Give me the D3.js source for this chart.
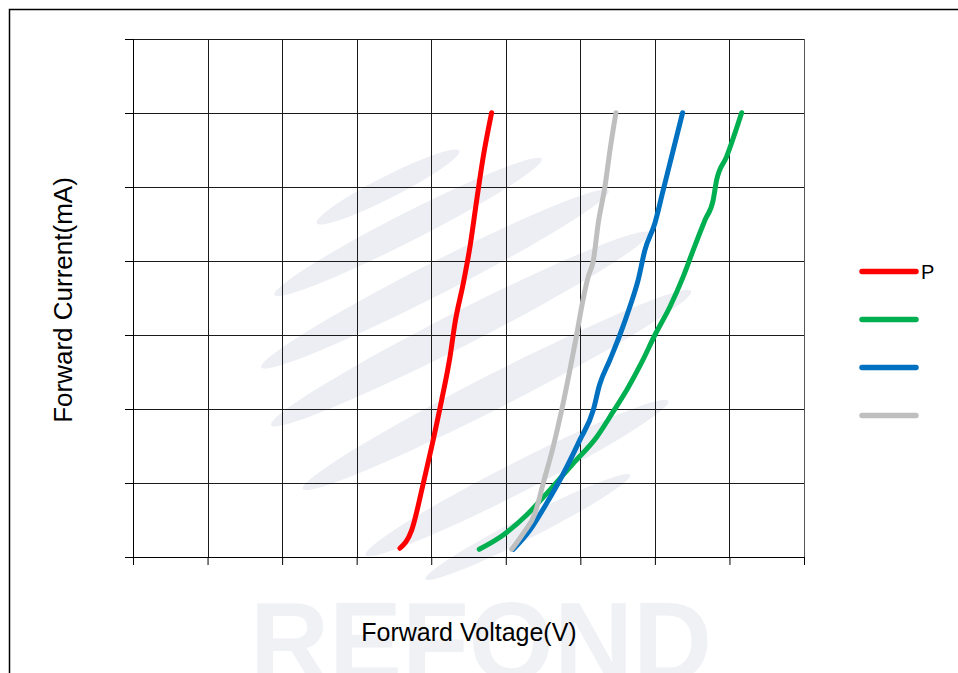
<!DOCTYPE html>
<html>
<head>
<meta charset="utf-8">
<script src="https://cdn.jsdelivr.net/npm/d3@7"></script>
<style>
  body { margin: 0; background: #fff; }
  svg { display: block; font-family: Arial, 'Liberation Sans', sans-serif; }
</style>
</head>
<body>
<div id="chart"></div>
<script>
// tick values (no labels are printed on the original)
const voltTicks = [0, 0.5, 1, 1.5, 2, 2.5, 3, 3.5, 4, 4.5]
const currTicks = [0, 5, 10, 15, 20, 25, 30, 35]

// series: voltage (V) and current (mA)
const redV = [1.79, 1.869, 1.947, 2.003, 2.07, 2.126, 2.159, 2.215, 2.26, 2.305, 2.349, 2.405]
const redI = [0.59, 1.82, 4.98, 7.45, 10.61, 13.53, 15.79, 18.49, 20.97, 24.12, 27.05, 30.02]

const greenV = [2.322, 2.483, 2.64, 2.796, 2.953, 3.11, 3.219, 3.319, 3.413, 3.5, 3.601, 3.69, 3.757, 3.836, 3.891, 3.914, 3.981, 4.082]
const greenI = [0.52, 1.49, 2.84, 4.53, 6.33, 8.11, 9.8, 11.42, 13.18, 15.0, 16.91, 18.94, 20.74, 22.77, 24.12, 25.47, 27.05, 30.02]

const blueV = [2.551, 2.662, 2.774, 2.875, 2.997, 3.087, 3.128, 3.198, 3.265, 3.332, 3.388, 3.433, 3.5, 3.556, 3.612, 3.686]
const blueI = [0.52, 1.82, 3.63, 5.42, 7.91, 9.93, 11.6, 13.31, 15.0, 16.91, 18.72, 20.74, 22.55, 24.8, 27.05, 30.02]

const grayV = [2.54, 2.617, 2.696, 2.751, 2.818, 2.875, 2.93, 2.975, 3.009, 3.053, 3.087, 3.12, 3.165, 3.199, 3.239]
const grayI = [0.52, 1.6, 2.95, 4.98, 7.45, 9.93, 12.64, 15.0, 16.91, 18.94, 20.02, 22.55, 25.02, 27.5, 30.02]

const seriesNames = ['P', '', '', '']
const seriesColors = ['#ff0000', '#00b050', '#0070c0', '#bfbfbf']

const series = [
  [redV, redI],
  [greenV, greenI],
  [blueV, blueI],
  [grayV, grayI]
].map(([v, i], k) => ({
  name: seriesNames[k],
  color: seriesColors[k],
  values: v.map((d, j) => ({ v: d, i: i[j] }))
}))

const W = 958
const H = 673
const plot = { left: 133, right: 804, top: 39, bottom: 557 }

const svg = d3
  .select('#chart')
  .append('svg')
  .attr('width', W)
  .attr('height', H)

// outer frame (runs off the right and bottom edge)
svg
  .append('rect')
  .attr('x', 9.5)
  .attr('y', 9.5)
  .attr('width', 980)
  .attr('height', 700)
  .attr('fill', '#fff')
  .attr('stroke', '#000')
  .attr('stroke-width', 1.5)

// faint logo watermark
const wm = svg.append('g').attr('fill', '#eceef4')
const swooshes = [
  [388, 187, 80, 11],
  [408, 227, 150, 14],
  [435, 279, 195, 16],
  [460, 329, 212, 17],
  [497, 390, 218, 17],
  [517, 478, 170, 15],
  [528, 527, 115, 11]
]
swooshes.forEach(([cx, cy, rx, ry]) => {
  wm.append('ellipse')
    .attr('cx', cx)
    .attr('cy', cy)
    .attr('rx', rx)
    .attr('ry', ry)
    .attr('transform', `rotate(-27 ${cx} ${cy})`)
})
wm.append('text')
  .attr('x', 250)
  .attr('y', 680)
  .attr('font-size', 112)
  .attr('font-weight', 'bold')
  .attr('fill', '#eff1f5')
  .attr('textLength', 462)
  .attr('lengthAdjust', 'spacingAndGlyphs')
  .text('REFOND')

const x = d3.scaleLinear().domain([0, 4.5]).range([plot.left, plot.right])
const y = d3.scaleLinear().domain([0, 35]).range([plot.bottom, plot.top])

// grid
const grid = svg.append('g').attr('stroke', '#1a1a1a').attr('stroke-width', 1)
grid
  .selectAll('.vgrid')
  .data(voltTicks.slice(1))
  .enter()
  .append('line')
  .attr('x1', d => Math.round(x(d)) + 0.5)
  .attr('x2', d => Math.round(x(d)) + 0.5)
  .attr('y1', plot.top)
  .attr('y2', plot.bottom)
  .attr('stroke', (d, i, n) => (i === n.length - 1 ? '#555' : '#1a1a1a'))
grid
  .selectAll('.hgrid')
  .data(currTicks.slice(1))
  .enter()
  .append('line')
  .attr('x1', plot.left)
  .attr('x2', plot.right)
  .attr('y1', d => Math.round(y(d)) + 0.5)
  .attr('y2', d => Math.round(y(d)) + 0.5)

// axes with bare tick marks
const xAxis = d3.axisBottom(x).tickValues(voltTicks).tickSize(8).tickFormat('')
const yAxis = d3.axisLeft(y).tickValues(currTicks).tickSize(8).tickFormat('')

svg
  .append('g')
  .attr('transform', `translate(0,${plot.bottom})`)
  .call(xAxis)
  .call(g => g.select('.domain').attr('stroke', '#000').attr('d', `M${plot.left},0.5H${plot.right}`))
  .call(g => g.selectAll('.tick line').attr('stroke', '#000'))

svg
  .append('g')
  .attr('transform', `translate(${plot.left},0)`)
  .call(yAxis)
  .call(g => g.select('.domain').attr('stroke', '#000').attr('d', `M0.5,${plot.top}V${plot.bottom + 7}`))
  .call(g => g.selectAll('.tick line').attr('stroke', '#000'))

// curves
const line = d3
  .line()
  .x(d => x(d.v))
  .y(d => y(d.i))
  .curve(d3.curveMonotoneX)

svg
  .append('g')
  .selectAll('path')
  .data(series)
  .enter()
  .append('path')
  .attr('d', d => line(d.values))
  .attr('fill', 'none')
  .attr('stroke', d => d.color)
  .attr('stroke-width', 5)
  .attr('stroke-linecap', 'round')
  .attr('stroke-linejoin', 'round')

// legend
const legend = svg
  .append('g')
  .selectAll('g')
  .data(series)
  .enter()
  .append('g')
  .attr('transform', (d, i) => `translate(862,${271.5 + i * 48})`)

legend
  .append('line')
  .attr('x1', 0)
  .attr('x2', 54)
  .attr('stroke', d => d.color)
  .attr('stroke-width', 5.5)
  .attr('stroke-linecap', 'round')

legend
  .append('text')
  .attr('x', 59)
  .attr('y', 7)
  .attr('font-size', 20)
  .attr('fill', '#000')
  .text(d => d.name)

// axis titles
svg
  .append('text')
  .attr('x', 469)
  .attr('y', 641)
  .attr('text-anchor', 'middle')
  .attr('font-size', 25)
  .text('Forward Voltage(V)')

svg
  .append('text')
  .attr('transform', 'translate(72,300) rotate(-90)')
  .attr('text-anchor', 'middle')
  .attr('font-size', 26)
  .text('Forward Current(mA)')
</script>
</body>
</html>
